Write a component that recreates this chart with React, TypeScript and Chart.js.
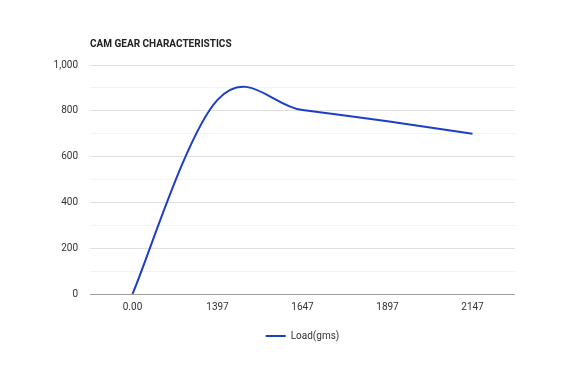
import React, { useEffect, useRef } from "react";
import { Chart, registerables } from "chart.js";

Chart.register(...registerables);

const categories = ["0.00", "1397", "1647", "1897", "2147"];
const loadValues = [0, 848, 803, 754, 700];
const seriesName = "Load(gms)";
const chartTitle = "CAM GEAR CHARACTERISTICS";

// Smooth "function" curve: control points from neighbouring points (uniform Catmull-Rom style)
const smoothCurvePlugin = {
  id: "smoothCurve",
  beforeDatasetDraw(chart: any, args: any) {
    const meta = chart.getDatasetMeta(args.index);
    const pts = meta.data as any[];
    const k = 0.18;
    for (let i = 0; i < pts.length; i++) {
      const cur = pts[i];
      const prev = pts[i - 1] || cur;
      const next = pts[i + 1] || cur;
      const dx = next.x - prev.x;
      const dy = next.y - prev.y;
      cur.cp1x = cur.x - k * dx;
      cur.cp1y = cur.y - k * dy;
      cur.cp2x = cur.x + k * dx;
      cur.cp2y = cur.y + k * dy;
    }
    if (meta.dataset) {
      meta.dataset._pointsUpdated = true;
      meta.dataset._path = undefined;
    }
  },
};

export default function App() {
  const ref = useRef<HTMLCanvasElement | null>(null);
  useEffect(() => {
    if (!ref.current) return;
    const chart = new Chart(ref.current, {
      type: "line",
      data: {
        labels: categories,
        datasets: [
          {
            label: seriesName,
            data: loadValues,
            borderColor: "#1a3ec7",
            backgroundColor: "#1a3ec7",
            borderWidth: 2,
            pointRadius: 0,
            tension: 0.4,
            fill: false,
          },
        ],
      },
      plugins: [smoothCurvePlugin],
      options: {
        animation: false,
        responsive: false,
        maintainAspectRatio: false,
        layout: { padding: { left: 0, right: 65, top: 0, bottom: 31 } },
        plugins: {
          title: {
            display: true,
            text: chartTitle,
            align: "start",
            fullSize: false,
            color: "#222",
            font: { family: "Roboto", size: 10, weight: "bold" },
            padding: { top: 38, bottom: 15 },
          },
          legend: {
            position: "bottom",
            fullSize: false,
            labels: {
              usePointStyle: true,
              pointStyle: "line",
              pointStyleWidth: 20,
              color: "#333",
              font: { family: "Roboto", size: 10 },
              padding: 10,
            },
          },
          tooltip: { enabled: false },
        },
        scales: {
          x: {
            offset: true,
            grid: { display: false, drawTicks: false },
            border: { display: false },
            ticks: {
              color: "#333",
              font: { family: "Roboto", size: 10 },
              padding: 7,
              maxRotation: 0,
            },
            afterFit: (s: any) => {
              s.height = 27;
            },
          },
          y: {
            min: 0,
            max: 1000,
            border: { display: false },
            grid: {
              drawTicks: false,
              color: (ctx: any) => {
                const v = ctx.tick ? ctx.tick.value : 0;
                if (v === 0) return "#9e9e9e";
                return v % 200 === 0 ? "#e0e0e0" : "#f3f3f3";
              },
              lineWidth: 1,
            },
            ticks: {
              stepSize: 100,
              autoSkip: false,
              color: "#333",
              font: { family: "Roboto", size: 10 },
              padding: 12,
              callback: (v: any) =>
                Number(v) % 200 === 0 ? Number(v).toLocaleString("en-US") : "",
            },
            afterFit: (s: any) => {
              s.width = 90;
            },
          },
        },
      },
    });
    return () => chart.destroy();
  }, []);
  return (
    <div style={{ position: "fixed", left: 0, top: 0, width: 580, height: 382, background: "#fff" }}>
      <canvas ref={ref} width={580} height={382} style={{ width: 580, height: 382 }} />
    </div>
  );
}
